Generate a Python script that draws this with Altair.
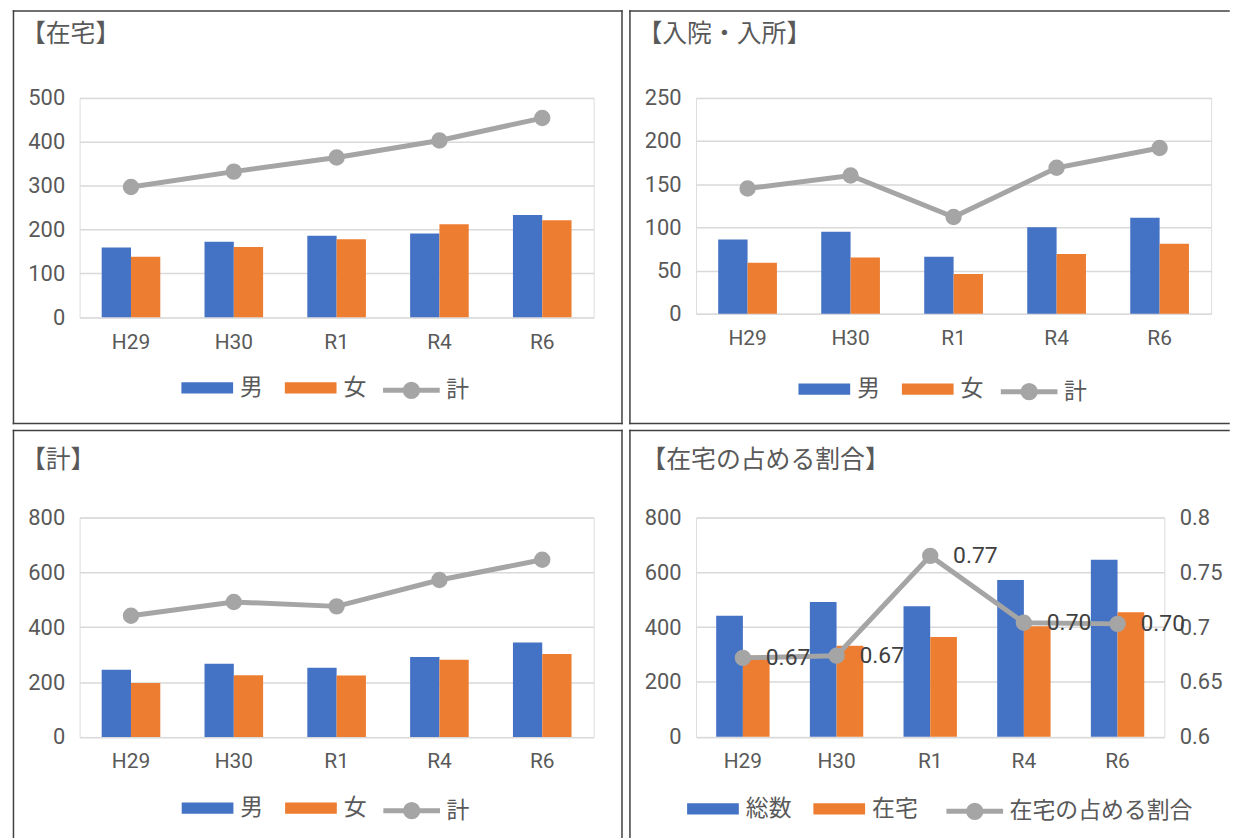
import altair as alt
import pandas as pd

years = ["H29", "H30", "R1", "R4", "R6"]

home_male = [159, 172, 186, 191, 233]
home_female = [138, 160, 178, 212, 221]
home_total = [297, 332, 364, 403, 454]

inst_male = [86, 95, 66, 100, 111]
inst_female = [59, 65, 46, 69, 81]
inst_total = [145, 160, 112, 169, 192]

all_male = [245, 267, 252, 291, 344]
all_female = [197, 225, 224, 281, 302]
all_total = [442, 492, 476, 572, 646]

share_ratio = [0.672, 0.674, 0.765, 0.704, 0.703]

BLUE, ORANGE, GRAY = "#4472C4", "#ED7D31", "#A5A5A5"
TEXT = "#595959"
NUM_FONT = "Liberation Sans Narrow, Roboto, sans-serif"
JP_FONT = "Noto Sans CJK JP"

RECT_PATH = "M-1,-0.217H1V0.217H-1Z"
LINE_PATH = ("M-1,0H1 "
             "M-0.2175,0A0.2175,0.2175 0 1,1 0.2175,0A0.2175,0.2175 0 1,1 -0.2175,0 "
             "M-0.07,0A0.07,0.07 0 1,1 0.07,0A0.07,0.07 0 1,1 -0.07,0")

FX1, FY1, FY2 = -66.5, -87.5, 327.5
PAD_IN, PAD_OUT = 0.43, 0.215


def x_enc():
    return alt.X(
        "year:N", sort=years,
        scale=alt.Scale(paddingInner=PAD_IN, paddingOuter=PAD_OUT),
        axis=alt.Axis(title=None, labelAngle=0, domain=False, ticks=False, grid=False,
                      labelPadding=14, labelFont=NUM_FONT, labelFontSize=21,
                      labelColor=TEXT),
    )


def leg_common():
    return dict(title=None, orient="none", direction="horizontal",
                labelFont=JP_FONT, labelFontSize=23, labelColor=TEXT, labelLimit=600)


def frame(x2, right_edge, bottom_edge):
    base = alt.Chart(pd.DataFrame({"k": [0]})).mark_rule(
        color="#404040", strokeWidth=1.5, strokeCap="square")
    parts = [
        base.encode(x=alt.value(FX1), x2=alt.value(x2), y=alt.value(FY1)),
        base.encode(x=alt.value(FX1), y=alt.value(FY1), y2=alt.value(FY2)),
    ]
    if right_edge:
        parts.append(base.encode(x=alt.value(x2), y=alt.value(FY1), y2=alt.value(FY2)))
    if bottom_edge:
        parts.append(base.encode(x=alt.value(FX1), x2=alt.value(x2), y=alt.value(FY2)))
    return parts


def title_mark(text, tx, ty):
    return alt.Chart(pd.DataFrame({"t": [text]})).mark_text(
        align="left", baseline="middle", font=JP_FONT, fontSize=25, color=TEXT
    ).encode(text="t:N", x=alt.value(tx), y=alt.value(ty))


def y_axis(vals, orient="left", grid=True, fmt=None):
    kw = dict(title=None, values=vals, domain=False, ticks=False, grid=grid,
              gridColor="#D9D9D9", gridWidth=1.5, labelPadding=15,
              labelFont=NUM_FONT, labelFontSize=22, labelColor=TEXT, orient=orient)
    if fmt:
        kw["format"] = fmt
    return alt.Axis(**kw)


def panel(title, names, a_vals, b_vals, c_vals, ydom, yvals, width, height,
          l1x, l2x, ly, tx, ty, fx2, fright, fbottom, right=None):
    a, b, c = names
    line = pd.DataFrame({"year": years, "series": [c] * 5, "value": list(c_vals)})

    color = alt.Color(
        "series:N", scale=alt.Scale(domain=[a, b], range=[BLUE, ORANGE]),
        legend=alt.Legend(legendX=l1x, legendY=ly + 2.5, labelOffset=7, columnPadding=22,
                          symbolSize=2704, symbolStrokeWidth=0, symbolType=RECT_PATH,
                          **leg_common()),
    )
    stroke = alt.Stroke(
        "series:N", scale=alt.Scale(domain=[c], range=[GRAY]),
        legend=alt.Legend(legendX=l2x, legendY=ly, labelOffset=4,
                          symbolSize=3249, symbolStrokeWidth=5, symbolType=LINE_PATH,
                          symbolFillColor="transparent", **leg_common()),
    )

    band = width / (len(years) - PAD_IN + 2 * PAD_OUT) * (1 - PAD_IN)
    bar_layers = []
    for name, vals, shift in ((a, a_vals, -band / 4), (b, b_vals, band / 4)):
        df = pd.DataFrame({"year": years, "series": [name] * 5, "value": list(vals)})
        bar_layers.append(
            alt.Chart(df).mark_bar(width=alt.RelativeBandSize(0.5), xOffset=shift).encode(
                x=x_enc(),
                y=alt.Y("value:Q", scale=alt.Scale(domain=ydom, nice=False),
                        axis=y_axis(yvals)),
                color=color,
            )
        )
    pt = alt.OverlayMarkDef(filled=True, size=210, fill=GRAY, stroke=GRAY, opacity=1)
    fr = frame(fx2, fright, fbottom)
    tm = title_mark(title, tx, ty)
    if right is None:
        line_layer = alt.Chart(line).mark_line(strokeWidth=5, point=pt).encode(
            x=x_enc(),
            y=alt.Y("value:Q", scale=alt.Scale(domain=ydom, nice=False)),
            stroke=stroke,
        )
        ch = alt.layer(*fr, tm, *bar_layers, line_layer)
    else:
        rdom, rvals = right
        base = alt.Chart(line).encode(
            x=x_enc(),
            y=alt.Y("value:Q", scale=alt.Scale(domain=rdom, nice=False, zero=False),
                    axis=y_axis(rvals, orient="right", grid=False, fmt="~g")),
        )
        ln = base.mark_line(strokeWidth=5, point=pt).encode(stroke=stroke)
        lbl = base.mark_text(align="left", baseline="middle", dx=23, font=NUM_FONT,
                             fontSize=23, color="#404040").encode(
            text=alt.Text("value:Q", format=".2f"))
        ch = alt.layer(alt.layer(*fr, tm, *bar_layers), alt.layer(ln, lbl)).resolve_scale(
            y="independent")
    return ch.properties(width=width, height=height)


p1 = panel("【在宅】", ("男", "女", "計"), home_male, home_female, home_total,
           [0, 500], [0, 100, 200, 300, 400, 500], 517, 220.6,
           102.4, 302.7, 263.1, -59, -64.7, 545.5, True, True)
p2 = panel("【入院・入所】", ("男", "女", "計"), inst_male, inst_female, inst_total,
           [0, 250], [0, 50, 100, 150, 200, 250], 518, 217,
           103, 304, 264.5, -59, -64.5, 536, False, True)
p3 = panel("【計】", ("男", "女", "計"), all_male, all_female, all_total,
           [0, 800], [0, 200, 400, 600, 800], 517, 220.7,
           102.7, 303, 263.9, -59, -57.6, 545.5, True, False)
p4 = panel("【在宅の占める割合】", ("総数", "在宅", "在宅の占める割合"),
           all_total, home_total, share_ratio,
           [0, 800], [0, 200, 400, 600, 800], 471, 220.6,
           -9, 249.3, 264.5, -55, -57.7, 536, False, False,
           right=([0.6, 0.8], [0.6, 0.65, 0.7, 0.75, 0.8]))

res = dict(color="independent", stroke="independent")
row1 = alt.hconcat(p1, p2, spacing=3).resolve_scale(**res)
row2 = alt.hconcat(p3, p4, spacing=3).resolve_scale(**res)
chart = alt.vconcat(row1, row2, spacing=2).resolve_scale(**res).properties(
    padding={"left": 3, "top": -2, "right": 0, "bottom": 0}
).configure_view(stroke=None).configure(background="white")

chart.save("out.html", embed_options={"renderer": "svg", "actions": False})
